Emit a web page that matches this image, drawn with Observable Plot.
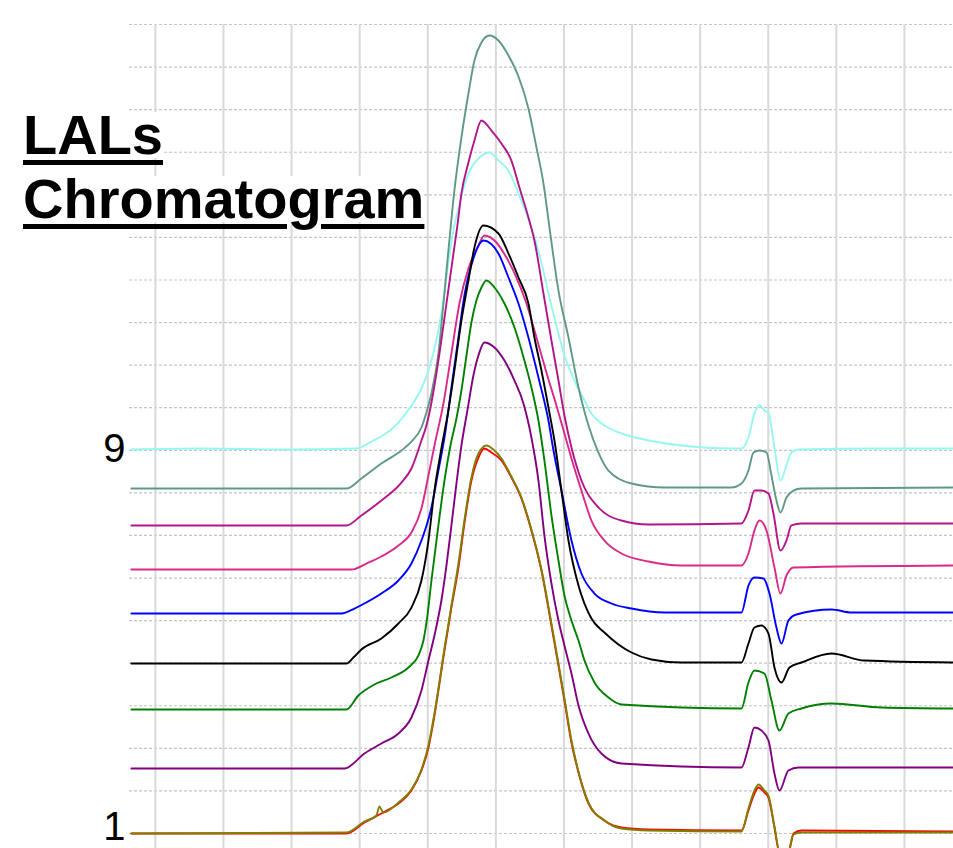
<!DOCTYPE html>
<html>
<head>
<meta charset="utf-8">
<script src="https://cdn.jsdelivr.net/npm/d3@7"></script>
<script src="https://cdn.jsdelivr.net/npm/@observablehq/plot@0.6"></script>
<style>
html, body { margin: 0; padding: 0; background: #fff; }
#wrap { position: relative; width: 953px; height: 848px; overflow: hidden; background: #fff; }
#chart svg { display: block; }
#title { position: absolute; left: 23px; top: 103px; font-family: "Liberation Sans", Arial, sans-serif; font-weight: bold; font-size: 56px; color: #000; }
#title div { line-height: 64px; height: 64px; white-space: nowrap; }
#title span { display: inline-block; line-height: 46px; background: #fff; text-decoration: underline; text-decoration-thickness: 5px; text-underline-offset: 6px; }
</style>
</head>
<body>
<div id="wrap">
  <div id="chart"></div>
  <div id="title"><div><span>LALs</span></div><div><span>Chromatogram</span></div></div>
</div>
<script>
// retention time (grid minutes) and detector signal (grid units, stacked offsets)
const trace9 = [[0.648,9.018],[1.676,9.042],[2.997,9.018],[3.952,9.042],[4.172,9.206],[4.319,9.324],[4.569,9.652],[4.760,10.052],[4.907,10.451],[5.010,10.874],[5.156,11.813],[5.230,12.518],[5.303,13.410],[5.377,14.162],[5.450,14.678],[5.538,15.218],[5.641,15.641],[5.758,15.876],[5.905,15.993],[6.038,15.805],[6.185,15.571],[6.332,15.030],[6.522,14.232],[6.669,13.410],[6.772,12.682],[6.889,11.930],[7.007,11.226],[7.154,10.639],[7.301,10.169],[7.403,9.864],[7.550,9.629],[7.741,9.464],[7.991,9.324],[8.241,9.230],[8.725,9.112],[9.459,9.042],[9.606,9.042],[9.709,9.300],[9.797,9.864],[9.871,10.052],[9.944,9.934],[10.003,9.864],[10.091,9.065],[10.179,8.290],[10.267,8.642],[10.340,8.948],[10.443,9.018],[11.662,9.042],[12.734,9.042]];
const trace8 = [[0.648,8.102],[3.805,8.102],[4.025,8.337],[4.319,8.689],[4.613,8.995],[4.760,9.206],[4.907,9.535],[4.980,9.887],[5.054,10.334],[5.156,11.273],[5.230,12.447],[5.303,13.692],[5.391,15.101],[5.494,16.346],[5.597,17.379],[5.685,18.154],[5.788,18.577],[5.905,18.741],[6.038,18.624],[6.185,18.271],[6.332,17.778],[6.478,17.027],[6.596,16.111],[6.699,15.265],[6.787,14.232],[6.919,12.752],[7.066,11.648],[7.213,10.474],[7.360,9.582],[7.506,8.948],[7.653,8.525],[7.991,8.220],[8.476,8.126],[9.459,8.126],[9.606,8.220],[9.709,8.525],[9.783,8.948],[9.871,8.995],[9.974,8.948],[10.047,8.408],[10.120,7.821],[10.179,7.539],[10.267,7.891],[10.370,8.055],[10.487,8.102],[12.734,8.126]];
const trace7 = [[0.648,7.234],[3.805,7.234],[4.025,7.469],[4.319,7.821],[4.613,8.243],[4.760,8.572],[4.907,9.230],[4.980,9.582],[5.054,10.122],[5.156,11.108],[5.274,12.447],[5.377,13.621],[5.435,14.279],[5.494,15.030],[5.597,15.758],[5.685,16.275],[5.788,16.745],[5.935,16.510],[6.082,16.205],[6.228,15.805],[6.346,15.171],[6.478,14.467],[6.566,13.927],[6.699,12.682],[6.816,11.578],[6.919,10.639],[7.007,9.817],[7.110,9.065],[7.256,8.290],[7.506,7.657],[7.844,7.351],[8.241,7.257],[9.606,7.281],[9.709,7.586],[9.797,8.055],[9.900,8.055],[10.003,7.985],[10.076,7.516],[10.179,6.646],[10.267,6.881],[10.340,7.234],[10.487,7.281],[12.734,7.281]];
const trace6 = [[0.648,6.200],[3.879,6.200],[4.099,6.341],[4.319,6.505],[4.569,6.764],[4.760,7.069],[4.907,7.633],[5.010,8.408],[5.098,9.112],[5.230,10.099],[5.347,11.273],[5.465,12.447],[5.597,13.269],[5.744,13.809],[5.832,14.044],[6.008,13.880],[6.155,13.527],[6.302,13.058],[6.449,12.447],[6.596,11.648],[6.742,10.827],[6.889,10.052],[7.007,9.394],[7.110,8.807],[7.256,8.055],[7.403,7.351],[7.594,6.881],[7.844,6.576],[8.241,6.388],[8.725,6.294],[9.606,6.294],[9.709,6.576],[9.797,7.116],[9.871,7.351],[9.974,7.116],[10.091,6.247],[10.179,5.636],[10.267,6.059],[10.370,6.247],[12.734,6.294]];
const trace5 = [[0.648,5.167],[3.732,5.167],[3.923,5.284],[4.070,5.402],[4.319,5.636],[4.569,5.942],[4.760,6.341],[4.907,6.881],[5.054,7.657],[5.156,8.525],[5.245,9.300],[5.347,10.474],[5.450,11.648],[5.538,12.635],[5.670,13.504],[5.817,13.927],[6.038,13.621],[6.185,13.058],[6.332,12.447],[6.478,11.648],[6.625,10.709],[6.772,9.699],[6.846,8.995],[6.963,8.055],[7.110,6.881],[7.256,6.106],[7.448,5.636],[7.697,5.402],[7.991,5.284],[8.476,5.190],[9.606,5.190],[9.709,5.824],[9.797,6.012],[9.930,5.989],[10.018,5.636],[10.120,4.838],[10.194,4.462],[10.296,5.002],[10.414,5.143],[10.928,5.261],[11.222,5.190],[12.734,5.190]];
const trace4 = [[0.648,3.993],[3.805,3.993],[3.908,4.133],[4.025,4.321],[4.319,4.580],[4.569,4.932],[4.760,5.307],[4.907,5.942],[5.010,6.881],[5.098,8.055],[5.200,9.042],[5.303,9.934],[5.391,10.874],[5.494,12.048],[5.597,12.987],[5.685,13.762],[5.817,14.279],[6.038,14.091],[6.185,13.621],[6.332,13.058],[6.478,12.447],[6.566,11.648],[6.669,10.874],[6.772,10.005],[6.860,9.230],[6.963,8.055],[7.066,6.881],[7.213,5.824],[7.403,5.049],[7.594,4.720],[7.800,4.439],[7.991,4.251],[8.284,4.087],[8.725,4.016],[9.606,4.016],[9.709,4.462],[9.797,4.838],[9.900,4.884],[10.003,4.697],[10.091,3.899],[10.194,3.546],[10.311,3.899],[10.487,4.016],[10.928,4.227],[11.413,4.063],[12.734,4.016]];
const trace3 = [[0.648,2.912],[3.805,2.912],[3.981,3.241],[4.216,3.499],[4.466,3.664],[4.716,3.899],[4.863,4.181],[4.936,4.533],[4.995,5.120],[5.054,5.942],[5.156,7.234],[5.245,8.290],[5.333,9.112],[5.421,9.746],[5.494,10.404],[5.568,11.226],[5.641,12.001],[5.714,12.518],[5.788,12.823],[5.861,12.987],[5.979,12.823],[6.126,12.447],[6.273,11.883],[6.419,11.108],[6.522,10.474],[6.625,9.699],[6.713,8.760],[6.816,7.469],[6.919,6.412],[7.007,5.589],[7.110,5.002],[7.213,4.533],[7.301,4.063],[7.448,3.546],[7.653,3.194],[7.844,3.030],[9.606,2.936],[9.709,3.546],[9.797,3.828],[9.944,3.758],[10.047,3.124],[10.164,2.419],[10.296,2.818],[10.487,2.936],[10.928,3.053],[11.662,2.959],[12.734,2.936]];
const trace2 = [[0.648,1.527],[3.776,1.527],[4.070,1.879],[4.319,2.113],[4.569,2.348],[4.760,2.724],[4.907,3.359],[5.010,4.063],[5.098,4.650],[5.200,5.472],[5.274,6.294],[5.347,7.234],[5.421,8.220],[5.494,9.112],[5.582,9.934],[5.670,10.756],[5.744,11.226],[5.832,11.531],[5.979,11.414],[6.126,11.108],[6.273,10.639],[6.405,10.099],[6.522,9.300],[6.625,8.290],[6.713,6.998],[6.816,5.871],[6.919,5.002],[7.007,4.415],[7.110,3.758],[7.213,3.007],[7.360,2.348],[7.550,1.879],[7.844,1.644],[9.606,1.550],[9.709,2.020],[9.797,2.489],[9.900,2.419],[10.003,2.184],[10.091,1.409],[10.164,1.010],[10.296,1.480],[10.443,1.550],[12.734,1.550]];
const trace1a = [[0.648,0.000],[3.805,0.000],[4.070,0.258],[4.319,0.470],[4.569,0.705],[4.760,1.010],[4.907,1.480],[5.010,2.020],[5.098,2.771],[5.245,4.298],[5.347,5.307],[5.450,6.247],[5.538,7.281],[5.641,8.290],[5.744,8.830],[5.832,9.042],[5.935,8.948],[6.082,8.760],[6.228,8.361],[6.375,7.868],[6.522,7.116],[6.669,6.177],[6.816,4.884],[6.919,3.946],[7.007,3.124],[7.110,2.137],[7.213,1.433],[7.360,0.705],[7.594,0.305],[7.844,0.141],[8.241,0.094],[9.606,0.070],[9.709,0.540],[9.797,0.939],[9.856,1.080],[9.944,0.963],[10.003,0.845],[10.091,0.141],[10.164,-0.446],[10.296,-0.446],[10.370,0.000],[10.487,0.070],[12.734,0.047]];
const trace1b = [[0.648,0.000],[3.805,0.023],[4.070,0.282],[4.246,0.423],[4.290,0.634],[4.349,0.493],[4.569,0.728],[4.760,1.033],[4.907,1.503],[5.010,2.067],[5.098,2.818],[5.245,4.345],[5.347,5.354],[5.450,6.341],[5.538,7.351],[5.641,8.361],[5.744,8.924],[5.861,9.112],[5.964,9.018],[6.082,8.807],[6.228,8.384],[6.375,7.891],[6.522,7.140],[6.669,6.200],[6.816,4.932],[6.919,3.993],[7.007,3.171],[7.110,2.184],[7.213,1.456],[7.360,0.728],[7.594,0.305],[7.844,0.117],[8.241,0.070],[9.606,0.047],[9.709,0.587],[9.797,1.010],[9.856,1.151],[9.944,1.010],[10.003,0.892],[10.091,0.164],[10.164,-0.399],[10.296,-0.399],[10.370,-0.023],[10.487,0.023],[12.734,0.023]];

const traceNames = ["9", "8", "7", "6", "5", "4", "3", "2", "1", "1 (repeat)"];
const traces = [trace9, trace8, trace7, trace6, trace5, trace4, trace3, trace2, trace1a, trace1b];
const traceColors = ["#96f7ee", "#5e9984", "#b3148c", "#d92a88", "#0000ff", "#000000", "#008000", "#800080", "#ff0000", "#808000"];

const gridMinutes = [1, 2, 3, 4, 5, 6, 7, 8, 9, 10, 11, 12];
const gridLevels = [0, 1, 2, 3, 4, 5, 6, 7, 8, 9, 10, 11, 12, 13, 14, 15, 16, 17, 18, 19];
const sideLabels = ["9", "1"];
const sideLabelLevels = [9.018, 0.16];

const rows = traces.flatMap((tr, i) => tr.map(([t, v]) => ({t, v, name: traceNames[i]})));

const chart = Plot.plot({
  width: 953,
  height: 848,
  marginLeft: 129,
  marginRight: 0,
  marginTop: 24,
  marginBottom: 0,
  style: {background: "#fff", fontFamily: "Liberation Sans, Arial, sans-serif"},
  x: {domain: [0.62, 12.72], axis: null},
  y: {domain: [-0.352, 19], axis: null},
  color: {domain: traceNames, range: traceColors},
  marks: [
    Plot.ruleY(gridLevels, {stroke: "#c4c4c4", strokeWidth: 1.2, strokeDasharray: "3,2"}),
    Plot.ruleX(gridMinutes, {stroke: "#d9d9d9", strokeWidth: 2}),
    Plot.line(rows, {x: "t", y: "v", z: "name", stroke: "name", strokeWidth: 1.9, curve: "monotone-x"}),
    Plot.text(sideLabels, {
      x: () => 0.62,
      y: (d, i) => sideLabelLevels[i],
      text: d => d,
      textAnchor: "end",
      lineAnchor: "middle",
      dx: -4,
      fontSize: 40,
      fill: "#000"
    })
  ]
});
document.getElementById("chart").appendChild(chart);
</script>
</body>
</html>
